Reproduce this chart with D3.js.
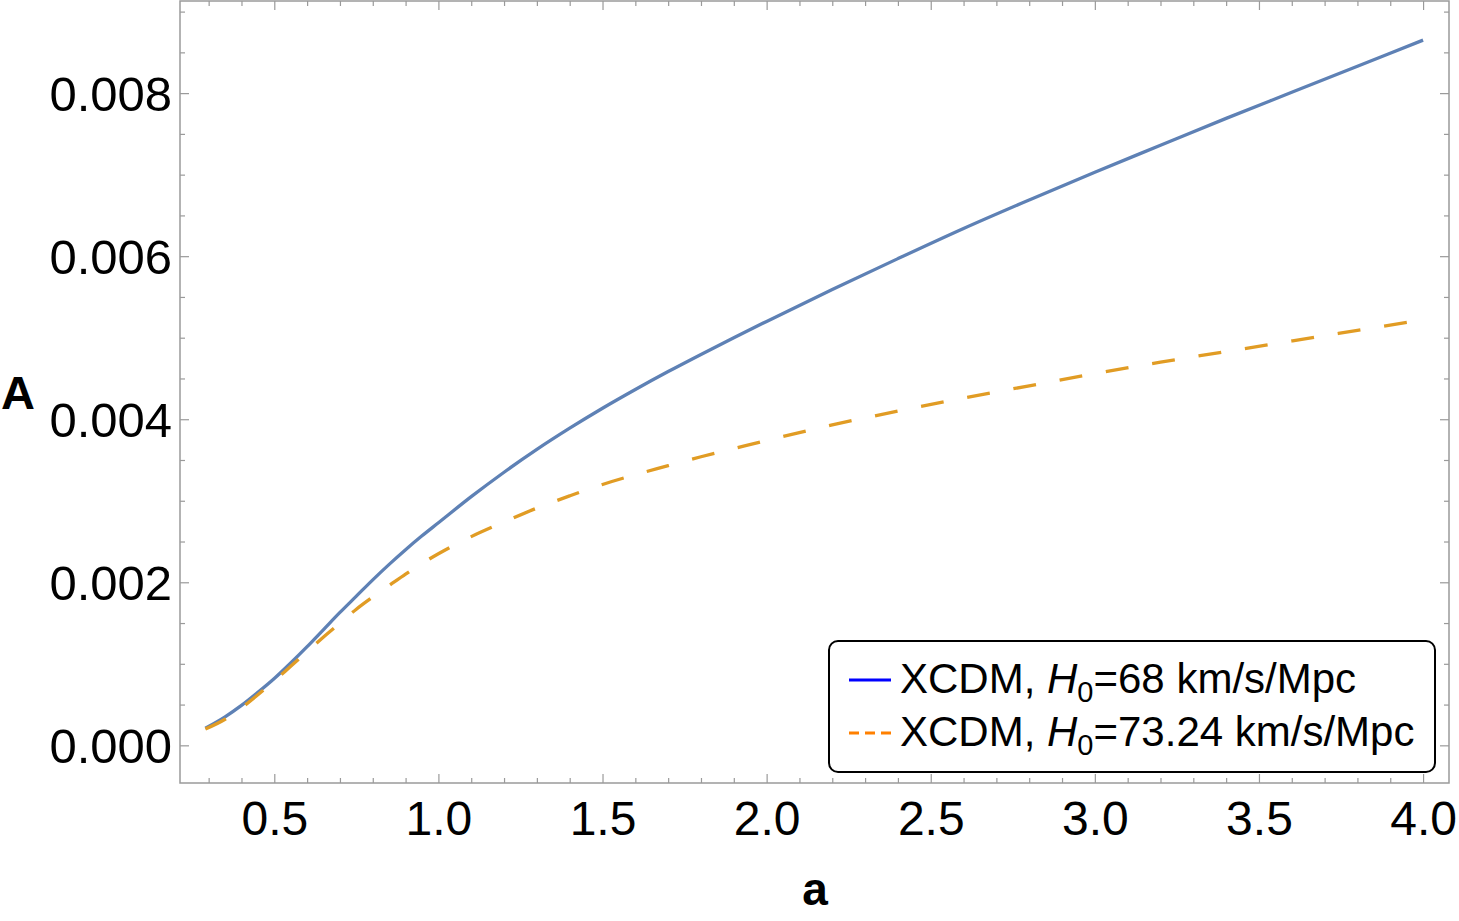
<!DOCTYPE html>
<html>
<head>
<meta charset="utf-8">
<script src="https://cdn.jsdelivr.net/npm/d3@7"></script>
<style>
  body { margin: 0; background: #fff; }
  svg { display: block; font-family: "Liberation Sans", Arial, sans-serif; }
</style>
</head>
<body>
<div id="chart"></div>
<script>
// scale factor a (x) and amplitude A (y)
const aValues68 = [0.29, 0.35, 0.40, 0.45, 0.50, 0.55, 0.60, 0.65, 0.70, 0.75, 0.80, 0.85, 0.90, 0.95,
  1.0, 1.1, 1.2, 1.3, 1.4, 1.5, 1.6, 1.7, 1.8, 1.9, 2.0, 2.2, 2.4, 2.6, 2.8, 3.0, 3.2, 3.4, 3.6, 3.8, 4.0];
const A68 = [0.00021, 0.00035, 0.00049, 0.00065, 0.00082, 0.00101, 0.00121, 0.00142, 0.00163, 0.00183,
  0.00203, 0.00222, 0.00240, 0.00257, 0.00273, 0.00305, 0.00335, 0.00363, 0.00389, 0.004135, 0.004365,
  0.004585, 0.004795, 0.00500, 0.00520, 0.00559, 0.00597, 0.00634, 0.00669, 0.00703, 0.00736, 0.00769,
  0.00801, 0.00833, 0.00865];

const aValues73 = [0.29, 0.35, 0.40, 0.45, 0.50, 0.55, 0.60, 0.65, 0.70, 0.75, 0.80, 0.85, 0.90, 0.95,
  1.0, 1.1, 1.2, 1.3, 1.4, 1.5, 1.6, 1.7, 1.8, 1.9, 2.0, 2.2, 2.4, 2.6, 2.8, 3.0, 3.2, 3.4, 3.6, 3.8, 4.0];
const A73 = [0.00020, 0.00032, 0.00046, 0.00062, 0.00079, 0.00097, 0.00115, 0.00133, 0.00150, 0.00167,
  0.00182, 0.00196, 0.00210, 0.00223, 0.00235, 0.00256, 0.00274, 0.00291, 0.00306, 0.00320, 0.00332,
  0.00343, 0.00354, 0.00364, 0.00374, 0.00393, 0.00410, 0.00426, 0.00441, 0.00456, 0.00470, 0.00483,
  0.00496, 0.00509, 0.00522];

const xMajor = [0.5, 1.0, 1.5, 2.0, 2.5, 3.0, 3.5, 4.0];
const yMajor = [0.000, 0.002, 0.004, 0.006, 0.008];
const legendLabels = ["68", "73.24"];

const width = 1459, height = 921;
const plot = { left: 180, right: 1449, top: 1, bottom: 783 };

const svg = d3.select("#chart").append("svg")
    .attr("width", width)
    .attr("height", height);

const x = d3.scaleLinear()
    .domain([0.2127, 4.079])
    .range([plot.left, plot.right]);

const y = d3.scaleLinear()
    .domain([-0.000462, 0.00913])
    .range([plot.bottom, plot.top]);

// minor ticks (0.1 on x, 0.0005 on y)
const xMinor = d3.range(3, 41).map(d => d / 10).filter(d => !xMajor.some(m => Math.abs(m - d) < 1e-9));
const yMinor = d3.range(0, 19).map(d => d * 0.0005).filter(d => !yMajor.some(m => Math.abs(m - d) < 1e-9));

const frame = svg.append("g").attr("class", "frame");

function addAxis(axisFn, scale, vals, size, transform, fmt) {
    const g = frame.append("g")
        .attr("transform", transform)
        .call(axisFn(scale).tickValues(vals).tickSizeInner(-size).tickSizeOuter(0)
            .tickFormat(fmt ? fmt : ""));
    g.select(".domain").remove();
    g.selectAll("line").attr("stroke", "#9a9a9a").attr("stroke-width", 1.2);
    return g;
}

// bottom / top
const bx = addAxis(d3.axisBottom, x, xMajor, 9, `translate(0,${plot.bottom})`, d3.format(".1f"));
addAxis(d3.axisBottom, x, xMinor, 5, `translate(0,${plot.bottom})`);
addAxis(d3.axisTop, x, xMajor, 9, `translate(0,${plot.top})`);
addAxis(d3.axisTop, x, xMinor, 5, `translate(0,${plot.top})`);
// left / right
const ly = addAxis(d3.axisLeft, y, yMajor, 9, `translate(${plot.left},0)`, d3.format(".3f"));
addAxis(d3.axisLeft, y, yMinor, 5, `translate(${plot.left},0)`);
addAxis(d3.axisRight, y, yMajor, 9, `translate(${plot.right},0)`);
addAxis(d3.axisRight, y, yMinor, 5, `translate(${plot.right},0)`);

bx.selectAll("text")
    .attr("y", 52)
    .attr("dy", 0)
    .attr("fill", "#000")
    .style("font-size", "48px");

ly.selectAll("text")
    .attr("x", -8)
    .attr("dy", "0.35em")
    .attr("fill", "#000")
    .style("font-size", "49px");

frame.append("rect")
    .attr("x", plot.left)
    .attr("y", plot.top)
    .attr("width", plot.right - plot.left)
    .attr("height", plot.bottom - plot.top)
    .attr("fill", "none")
    .attr("stroke", "#9a9a9a")
    .attr("stroke-width", 1.5);

// axis labels
svg.append("text")
    .attr("x", 815)
    .attr("y", 905)
    .attr("text-anchor", "middle")
    .style("font-size", "46px")
    .style("font-weight", "bold")
    .text("a");

svg.append("text")
    .attr("x", 18)
    .attr("y", 409)
    .attr("text-anchor", "middle")
    .style("font-size", "47px")
    .style("font-weight", "bold")
    .text("A");

// curves
const line = d3.line()
    .x(d => x(d[0]))
    .y(d => y(d[1]))
    .curve(d3.curveMonotoneX);

svg.append("path")
    .datum(d3.zip(aValues68, A68))
    .attr("fill", "none")
    .attr("stroke", "#5E81B5")
    .attr("stroke-width", 3.3)
    .attr("d", line);

svg.append("path")
    .datum(d3.zip(aValues73, A73))
    .attr("fill", "none")
    .attr("stroke", "#E19C24")
    .attr("stroke-width", 3.3)
    .attr("stroke-dasharray", "23,24")
    .attr("d", line);

// legend
const legend = svg.append("g").attr("transform", "translate(829,641)");

legend.append("rect")
    .attr("width", 606)
    .attr("height", 131)
    .attr("rx", 9)
    .attr("fill", "#fff")
    .attr("stroke", "#000")
    .attr("stroke-width", 2);

const rows = legend.selectAll(".row")
    .data(legendLabels)
    .enter().append("g")
    .attr("class", "row")
    .attr("transform", (d, i) => `translate(0,${39 + i * 53})`);

rows.append("line")
    .attr("x1", 20)
    .attr("x2", 62)
    .attr("stroke", (d, i) => i === 0 ? "#0000FF" : "#FF8000")
    .attr("stroke-width", 3)
    .attr("stroke-dasharray", (d, i) => i === 0 ? null : "10,6");

const txt = rows.append("text")
    .attr("x", 71)
    .attr("y", 13)
    .style("font-size", "42px");

txt.append("tspan").text("XCDM, ");
txt.append("tspan").style("font-style", "italic").text("H");
txt.append("tspan").attr("dy", 9).style("font-size", "29px").text("0");
txt.append("tspan").attr("dy", -9).text(d => `=${d} km/s/Mpc`);
</script>
</body>
</html>
